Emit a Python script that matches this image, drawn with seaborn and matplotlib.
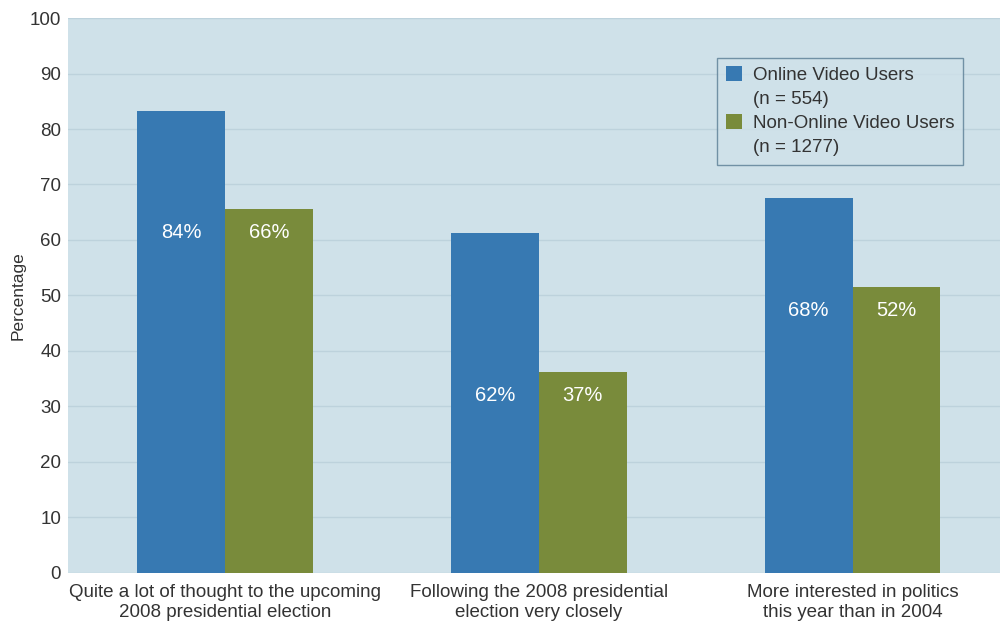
import matplotlib
matplotlib.use("Agg")
import matplotlib.pyplot as plt
from matplotlib.patches import Patch
import seaborn as sns
import pandas as pd

categories = ["Quite a lot of thought to the upcoming\n2008 presidential election",
              "Following the 2008 presidential\nelection very closely",
              "More interested in politics\nthis year than in 2004"]
series_names = ["Online Video Users", "Non-Online Video Users"]
series_n = ["(n = 554)", "(n = 1277)"]
online_values = [83.2, 61.3, 67.6]
nononline_values = [65.6, 36.2, 51.5]
online_labels = ["84%", "62%", "68%"]
nononline_labels = ["66%", "37%", "52%"]
yticks = [0, 10, 20, 30, 40, 50, 60, 70, 80, 90, 100]

df = pd.DataFrame({
    "cat": categories * 2,
    "series": [series_names[0]] * 3 + [series_names[1]] * 3,
    "value": online_values + nononline_values,
})

sns.set_theme(style="white")
plt.rcParams['font.family'] = ['Liberation Sans', 'DejaVu Sans']

fig = plt.figure(figsize=(10, 6.22), dpi=100)
ax = fig.add_axes([0.068, 0.079, 0.932, 0.892])
bg = "#cfe1e9"
ax.set_facecolor(bg)
fig.patch.set_facecolor("white")

colors = ["#3779b2", "#798b3b"]
palette = {series_names[0]: colors[0], series_names[1]: colors[1]}
sns.barplot(data=df, x="cat", y="value", hue="series", palette=palette,
            width=0.56, ax=ax, saturation=1, edgecolor="none", linewidth=0, zorder=3)

ax.set_ylim(0, 100)
ax.set_xlim(-0.5, 2.47)
ax.set_yticks(yticks)
ax.set_yticklabels([str(t) for t in yticks], fontsize=13.5, color="#333333")
ax.grid(axis="y", color="#bdd2dc", linewidth=1, zorder=0)
ax.set_axisbelow(True)
for s in ax.spines.values():
    s.set_visible(False)
ax.tick_params(axis="y", length=0, pad=5)
ax.tick_params(axis="x", length=0, labelsize=13.5, labelcolor="#333333", pad=8)
ax.set_xlabel("")
ax.set_ylabel("Percentage", fontsize=12.5, color="#333333")
ax.yaxis.set_label_coords(-0.046, 0.5)

# value labels
for i in range(3):
    ypos = min(online_values[i], nononline_values[i]) - 4.3
    ax.text(i - 0.14, ypos, online_labels[i], ha="center", va="center",
            color="white", fontsize=14.5, zorder=5)
    ax.text(i + 0.14, ypos, nononline_labels[i], ha="center", va="center",
            color="white", fontsize=14.5, zorder=5)

handles = [Patch(facecolor=colors[0], edgecolor="none"), Patch(alpha=0),
           Patch(facecolor=colors[1], edgecolor="none"), Patch(alpha=0)]
labels = [series_names[0], series_n[0], series_names[1], series_n[1]]
leg = ax.legend(handles, labels, loc="upper right", bbox_to_anchor=(0.960, 0.928),
                frameon=True, fontsize=13.5, handlelength=0.85, handleheight=0.85,
                handletextpad=0.6, labelspacing=0.32, borderpad=0.45,
                borderaxespad=0, fancybox=False)
leg.get_frame().set_facecolor(bg)
leg.get_frame().set_edgecolor("#5a7d94")
leg.get_frame().set_linewidth(1)
for t in leg.get_texts():
    t.set_color("#333333")

fig.savefig("out.png", dpi=100)
